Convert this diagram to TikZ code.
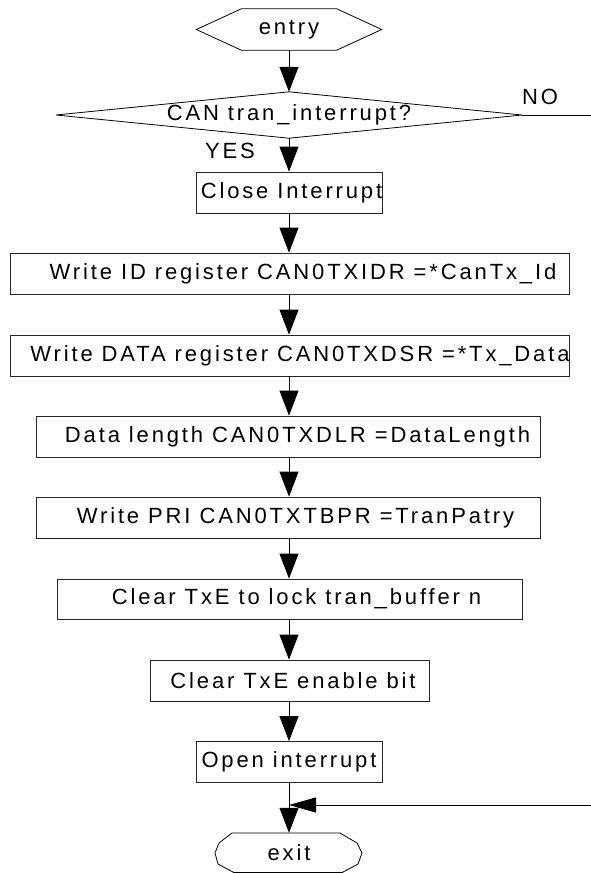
\documentclass[tikz,border=0pt]{standalone}
\usepackage{fontspec}
\setmainfont[LetterSpace=13]{Liberation Sans}
\usetikzlibrary{arrows.meta}
\newcommand\shifted[2]{\makebox[0pt][c]{\hspace*{#1}#2}}
\begin{document}
\begin{tikzpicture}[x=1pt,y=-1pt,
  lbl/.style={font=\fontsize{22}{26}\selectfont, inner sep=0pt},
  procbox/.style={lbl, draw=black!85, line width=0.8pt, minimum height=41pt},
  hidden/.style={lbl, minimum height=41pt},
  flow/.style={draw=black, line width=0.8pt, -{Triangle[width=19pt,length=25pt]}},
  sideflow/.style={draw=black, line width=0.8pt, -{Triangle[width=15pt,length=27pt]}},
  plain/.style={draw=black, line width=0.8pt}]
\useasboundingbox (0,0) rectangle (591,873);
\fill[white] (0,0) rectangle (591,873);

% entry hexagon
\node[hidden, minimum width=185pt] (entry) at (289,29.5) {entry};
\draw[plain] (entry.west) -- ([xshift=45pt]entry.north west) -- ([xshift=-45pt]entry.north east)
  -- (entry.east) -- ([xshift=-45pt]entry.south east) -- ([xshift=45pt]entry.south west) -- cycle;

% decision diamond
\node[hidden, minimum width=466pt, minimum height=46pt] (dia) at (289,115) {CAN tran\_interrupt?};
\draw[plain] (dia.west) -- (dia.north) -- (dia.east) -- (dia.south) -- cycle;
\node[lbl] (no) at (540,97) {NO};
\node[lbl] (yes) at (230,151) {YES};
\coordinate (noend) at (591,115);

% process boxes
\node[procbox, minimum width=186pt] (close) at (289,192.5) {\shifted{5pt}{Close Interrupt}};
\node[procbox, minimum width=559pt] (wid) at (289.5,273.5) {\shifted{27pt}{Write ID register CAN0TXIDR =*CanTx\_Id}};
\node[procbox, minimum width=559pt] (wdata) at (289.5,355.5) {\shifted{21pt}{Write DATA register CAN0TXDSR =*Tx\_Data}};
\node[procbox, minimum width=504pt] (len) at (288.5,436.5) {\shifted{18pt}{Data length CAN0TXDLR =DataLength}};
\node[procbox, minimum width=504pt] (pri) at (288.5,517.5) {\shifted{14pt}{Write PRI CAN0TXTBPR =TranPatry}};
\node[procbox, minimum width=465pt, minimum height=40pt] (lock) at (289.5,599) {\shifted{14pt}{Clear TxE to lock tran\_buffer n}};
\node[procbox, minimum width=279pt] (enable) at (289.5,680.5) {\shifted{7pt}{Clear TxE enable bit}};
\node[procbox, minimum width=186pt] (open) at (289,762) {Open interrupt};

% exit terminal
\node[hidden, minimum width=148pt, minimum height=40pt] (exit) at (289,853) {exit};
\draw[plain] (232,833) -- (340,833) -- (357,843) -- (362,853) -- (358,864) -- (342,872.6)
  -- (234,872.6) -- (218,864) -- (215,853) -- (219,843) -- cycle;

% connectors
\draw[flow] (entry.south) -- (entry.south |- dia.north);
\draw[flow] (dia.south) -- (dia.south |- close.north);
\draw[plain] (dia.east) -- (noend);
\draw[flow] (close.south) -- (close.south |- wid.north);
\draw[flow] (close.south |- wid.south) -- (close.south |- wdata.north);
\draw[flow] (close.south |- wdata.south) -- (close.south |- len.north);
\draw[flow] (close.south |- len.south) -- (close.south |- pri.north);
\draw[flow] (close.south |- pri.south) -- (close.south |- lock.north);
\draw[flow] (close.south |- lock.south) -- (close.south |- enable.north);
\draw[flow] (close.south |- enable.south) -- (open.north);
\coordinate (ret) at (591,805);
\coordinate (j) at (open.south |- ret);
\draw[flow] (open.south) -- (open.south |- exit.north);
\draw[sideflow] (ret) -- (j);
\end{tikzpicture}
\end{document}
